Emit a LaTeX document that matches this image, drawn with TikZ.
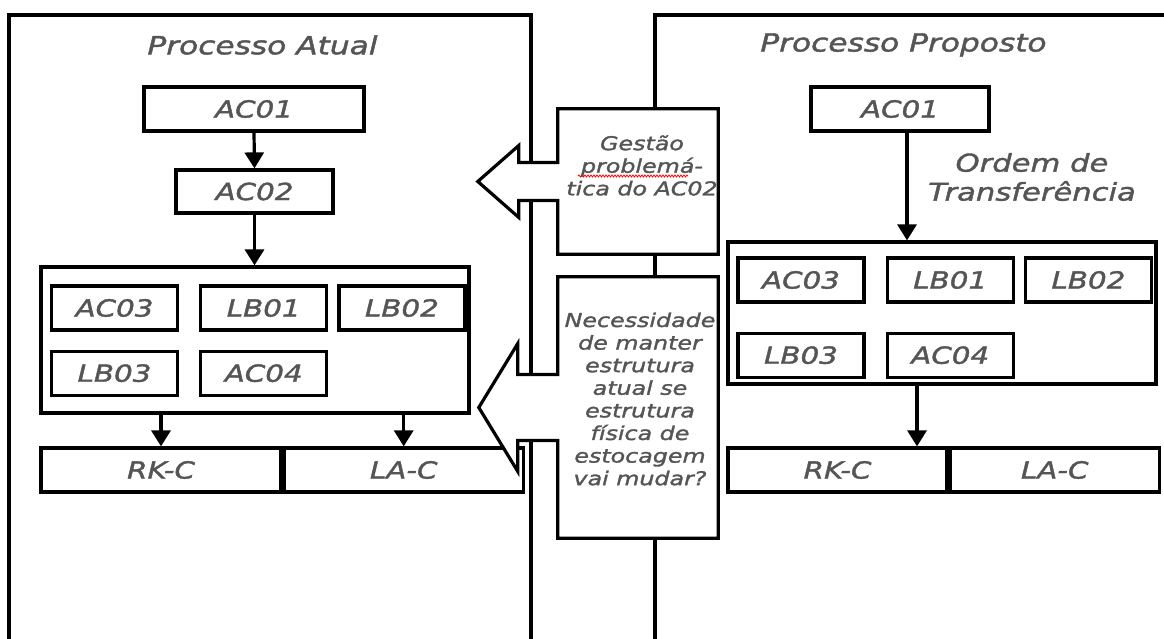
\documentclass[tikz,border=0pt]{standalone}
\usepackage{fontspec}
\usetikzlibrary{arrows.meta,positioning,calc,decorations.pathmorphing}
\newfontfamily\diagfont[FakeStretch=1.25,FakeBold=1.6]{DejaVu Sans}
\definecolor{labelgray}{HTML}{555555}

\begin{document}
\begin{tikzpicture}[x=1pt, y=1pt,
  node distance=18pt and 20pt,
  lbl/.style={text=labelgray, font=\diagfont\itshape\fontsize{23.5}{26}\selectfont},
  box/.style={draw, line width=3.2pt, inner sep=0pt, minimum height=44pt, lbl},
  cell/.style={box, minimum width=126pt},
  frame/.style={draw, line width=3.2pt, inner sep=0pt},
  title/.style={lbl, font=\diagfont\itshape\fontsize{25}{28}\selectfont},
  callbox/.style={inner sep=0pt, minimum width=160pt},
  calltxt/.style={lbl, align=center, font=\diagfont\itshape\fontsize{19}{22.6}\selectfont},
  callout/.style={draw, fill=white, line width=3.2pt, line join=miter},
  arr/.style={-{Triangle[length=16pt,width=19pt]}, line width=3.2pt},
  panel/.style={line width=3.2pt}]
\useasboundingbox (0,0) rectangle (1164,639);

% panels
\draw[panel] (9,-5) -- (9,624) -- (531,624) -- (531,-5);
\draw[panel] (655,-5) -- (655,624) -- (1170,624);

% processo atual
\node[title] (tatual) at (262.5,594) {Processo Atual};
\node[box, minimum width=220pt] (ac01) at (254,530) {AC01};
\node[box, minimum width=157pt, minimum height=43pt] (ac02) at (254.5,447.5) {AC02};
\node[frame, minimum width=428pt, minimum height=146pt] (grp) at (255,299) {};
\node[cell] (ac03) at (114.5,331) {AC03};
\node[cell, right=of ac03] (lb01) {LB01};
\node[cell, right=9pt of lb01] (lb02) {LB02};
\node[cell, below=of ac03] (lb03) {LB03};
\node[cell, below=of lb01] (ac04) {AC04};
\node[box, minimum width=240pt] (rkc) at (161,169) {RK-C};
\node[box, minimum width=239pt, right=0pt of rkc] (lac) {LA-C};
\draw[arr] (ac01.south) -- (ac02.north);
\draw[arr] (ac02.south) -- (ac02.south |- grp.north);
\draw[arr] (grp.south -| rkc.north) -- (rkc.north);
\draw[arr] (grp.south -| lac.north) -- (lac.north);

% processo proposto
\node[title] (tproposto) at (903.5,594) {Processo Proposto};
\node[box, minimum width=178pt] (ac01r) at (900,530) {AC01};
\node[frame, minimum width=428pt, minimum height=142pt] (grpr) at (942,326) {};
\node[cell] (ac03r) at (801,359) {AC03};
\node[cell, right=of ac03r] (lb01r) {LB01};
\node[cell, right=9pt of lb01r] (lb02r) {LB02};
\node[cell, below=28pt of ac03r] (lb03r) {LB03};
\node[cell, below=28pt of lb01r] (ac04r) {AC04};
\node[box, minimum width=219pt] (rkcr) at (837.5,169) {RK-C};
\node[box, minimum width=209pt, right=0pt of rkcr] (lacr) {LA-C};
\node[lbl, align=center, font=\diagfont\itshape\fontsize{24.5}{29}\selectfont] (ordem) at (1032,462) {Ordem de\\Transferência};
\coordinate (ot) at ([xshift=7pt]ac01r.south);
\draw[arr] (ot) -- (ot |- grpr.north);
\coordinate (ob) at ([xshift=-25pt]grpr.south);
\draw[arr] (ob) -- (ob |- rkcr.north);

% callouts
\node[callbox, minimum height=145pt] (gestao) at (638,457.5) {};
\draw[callout] (gestao.south west) -- ($(gestao.west)+(0,-19)$) -- ++(-39,0) -- ++(0,-17)
  -- ($(gestao.west)+(-80,0)$) -- ($(gestao.west)+(-39,36)$) -- ++(0,-17)
  -- ($(gestao.west)+(0,19)$) -- (gestao.north west) -- (gestao.north east)
  -- (gestao.south east) -- cycle;
\node[calltxt] (gestaotxt) at ([xshift=4pt,yshift=16pt]gestao.center) {Gestão\\problemá-\\tica do AC02};
\draw[red, line width=0.8pt, decorate, decoration={snake, amplitude=1pt, segment length=3pt}]
  ([xshift=-64pt,yshift=-10.5pt]gestaotxt.center) -- ++(110,0);

\node[callbox, minimum height=261pt] (necess) at (638,231.5) {};
\draw[callout] (necess.south west) -- ($(necess.west)+(0,-33)$) -- ++(-40,0) -- ++(0,-31)
  -- ($(necess.west)+(-79,0)$) -- ($(necess.west)+(-40,64)$) -- ++(0,-31)
  -- ($(necess.west)+(0,33)$) -- (necess.north west) -- (necess.north east)
  -- (necess.south east) -- cycle;
\node[calltxt] (necesstxt) at ([xshift=2pt,yshift=8.5pt]necess.center) {Necessidade\\de manter\\estrutura\\atual se\\estrutura\\física de\\estocagem\\vai mudar?};
\end{tikzpicture}
\end{document}
